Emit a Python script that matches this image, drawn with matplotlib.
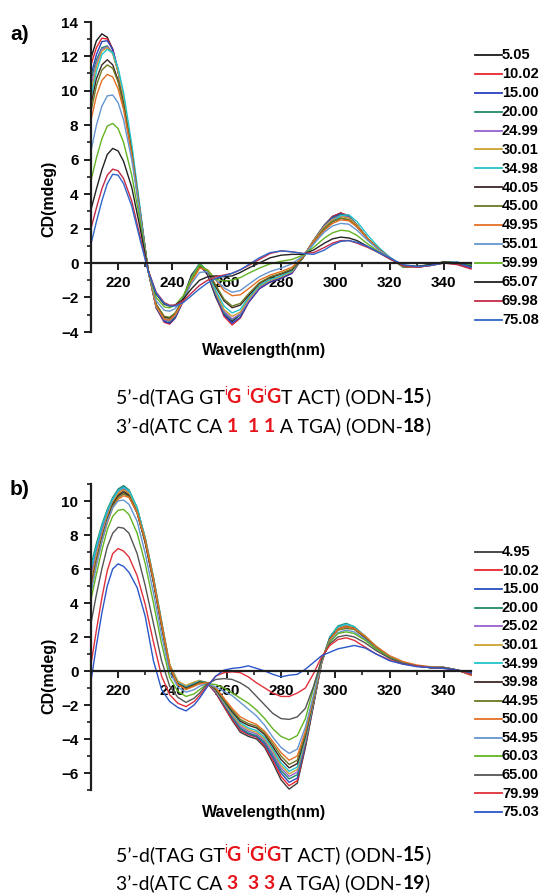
import matplotlib
matplotlib.use("Agg")
import matplotlib.pyplot as plt
from matplotlib.lines import Line2D
from matplotlib.ticker import MultipleLocator

plt.rcParams['font.family'] = ['Liberation Sans', 'DejaVu Sans']

W, H = 542, 895

# ===================== panel a data
wl_a = [210, 212, 214, 216, 218, 220, 222, 225, 228, 231, 234, 237, 239, 241, 244, 247, 250, 253, 256, 259, 262,
        265, 268, 272, 276, 280, 284, 288, 292, 296, 299, 302, 305, 308, 312, 316, 320, 325, 330, 335, 340, 345, 350]
temps_a = ["5.05", "10.02", "15.00", "20.00", "24.99", "30.01", "34.98", "40.05",
           "45.00", "49.95", "55.01", "59.99", "65.07", "69.98", "75.08"]

a_0505 = [11.9, 12.9, 13.3, 13.1, 12.4, 11.1, 9.5, 6.5, 3.0, -0.4, -2.5, -3.4, -3.5, -3.1, -2.0, -0.7, -0.1, -0.7, -2.0, -3.0, -3.4,
          -3.0, -2.1, -1.4, -1.1, -0.9, -0.5, 0.3, 1.3, 2.2, 2.7, 2.9, 2.7, 2.2, 1.4, 0.8, 0.3, -0.2, -0.25, -0.1, 0.05, 0.0, -0.15]
a_1002 = [11.5, 12.5, 13.05, 13.0, 12.4, 11.1, 9.5, 6.5, 3.0, -0.4, -2.6, -3.45, -3.55, -3.2, -2.2, -0.9, -0.15, -0.6, -1.9, -3.1, -3.6,
          -3.2, -2.3, -1.5, -1.1, -0.9, -0.6, 0.3, 1.3, 2.2, 2.7, 2.9, 2.75, 2.2, 1.4, 0.8, 0.3, -0.2, -0.25, -0.15, 0.0, -0.05, -0.3]
a_1500 = [10.9, 12.1, 12.85, 12.9, 12.4, 11.2, 9.6, 6.6, 3.1, -0.4, -2.6, -3.4, -3.5, -3.2, -2.2, -0.9, -0.15, -0.6, -1.9, -3.0, -3.5,
          -3.15, -2.3, -1.5, -1.1, -0.9, -0.6, 0.3, 1.3, 2.2, 2.65, 2.85, 2.7, 2.2, 1.4, 0.8, 0.3, -0.2, -0.25, -0.1, 0.0, -0.05, -0.25]
a_2000 = [10.6, 11.8, 12.5, 12.6, 12.2, 11.1, 9.6, 6.6, 3.1, -0.4, -2.5, -3.3, -3.4, -3.1, -2.1, -0.8, 0.0, -0.5, -1.8, -2.9, -3.3,
          -3.0, -2.2, -1.4, -1.0, -0.8, -0.5, 0.3, 1.3, 2.2, 2.6, 2.8, 2.7, 2.2, 1.4, 0.8, 0.3, -0.25, -0.25, -0.1, 0.05, 0.0, -0.2]
a_2499 = [10.3, 11.6, 12.4, 12.55, 12.2, 11.1, 9.6, 6.6, 3.1, -0.4, -2.5, -3.3, -3.35, -3.05, -2.1, -0.85, -0.1, -0.5, -1.75, -2.8, -3.25,
          -2.95, -2.2, -1.4, -1.0, -0.8, -0.5, 0.3, 1.3, 2.15, 2.55, 2.75, 2.65, 2.2, 1.4, 0.8, 0.3, -0.2, -0.25, -0.1, 0.05, 0.0, -0.2]
a_3001 = [9.9, 11.4, 12.3, 12.5, 12.15, 11.1, 9.6, 6.6, 3.1, -0.4, -2.5, -3.25, -3.3, -3.0, -2.1, -0.9, -0.15, -0.5, -1.7, -2.7, -3.1,
          -2.85, -2.1, -1.35, -1.0, -0.8, -0.5, 0.3, 1.3, 2.1, 2.5, 2.7, 2.6, 2.2, 1.4, 0.8, 0.3, -0.2, -0.25, -0.1, 0.05, 0.0, -0.2]
a_3498 = [9.6, 11.1, 12.1, 12.4, 12.2, 11.3, 9.9, 6.9, 3.3, -0.4, -2.5, -3.2, -3.25, -3.0, -2.1, -0.9, -0.1, -0.45, -1.6, -2.5, -2.9,
          -2.7, -2.0, -1.3, -0.95, -0.75, -0.45, 0.3, 1.1, 1.9, 2.4, 2.75, 2.8, 2.4, 1.6, 0.9, 0.35, -0.2, -0.25, -0.1, 0.05, 0.05, -0.15]
a_4005 = [9.2, 10.7, 11.5, 11.8, 11.5, 10.6, 9.2, 6.4, 3.0, -0.4, -2.4, -3.15, -3.2, -2.95, -2.1, -1.0, -0.2, -0.45, -1.4, -2.2, -2.6,
          -2.45, -1.9, -1.2, -0.85, -0.65, -0.4, 0.3, 1.2, 2.0, 2.4, 2.6, 2.5, 2.1, 1.4, 0.8, 0.3, -0.2, -0.25, -0.1, 0.05, 0.0, -0.2]
a_4500 = [8.8, 10.3, 11.2, 11.5, 11.3, 10.5, 9.1, 6.4, 3.0, -0.4, -2.4, -3.1, -3.15, -2.9, -2.1, -1.0, -0.25, -0.45, -1.3, -2.1, -2.5,
          -2.35, -1.8, -1.15, -0.8, -0.6, -0.35, 0.3, 1.2, 2.0, 2.4, 2.6, 2.5, 2.1, 1.4, 0.8, 0.3, -0.2, -0.25, -0.1, 0.05, 0.0, -0.2]
a_4995 = [8.3, 9.7, 10.6, 10.95, 10.8, 10.1, 8.9, 6.3, 3.0, -0.4, -2.5, -3.25, -3.3, -3.0, -2.2, -1.1, -0.3, -0.4, -1.0, -1.6, -1.9,
          -1.85, -1.5, -1.0, -0.7, -0.5, -0.25, 0.35, 1.2, 1.9, 2.3, 2.5, 2.45, 2.1, 1.4, 0.8, 0.3, -0.2, -0.25, -0.1, 0.05, 0.0, -0.2]
a_5501 = [6.5, 8.0, 9.1, 9.7, 9.75, 9.3, 8.3, 6.0, 2.9, -0.4, -2.2, -2.75, -2.8, -2.65, -2.1, -1.2, -0.55, -0.5, -0.95, -1.45, -1.7,
          -1.6, -1.25, -0.8, -0.5, -0.3, -0.05, 0.4, 1.1, 1.8, 2.15, 2.3, 2.25, 1.9, 1.3, 0.75, 0.3, -0.15, -0.25, -0.1, 0.05, 0.0, -0.2]
a_5999 = [4.8, 6.1, 7.2, 7.95, 8.1, 7.8, 7.0, 5.1, 2.5, -0.4, -2.0, -2.55, -2.6, -2.45, -1.9, -0.9, -0.1, -0.45, -0.95, -1.05, -1.0,
          -0.85, -0.6, -0.3, -0.05, 0.1, 0.2, 0.45, 0.9, 1.45, 1.75, 1.9, 1.85, 1.6, 1.1, 0.65, 0.25, -0.15, -0.2, -0.1, 0.05, 0.0, -0.15]
a_6507 = [3.1, 4.3, 5.4, 6.3, 6.65, 6.5, 5.9, 4.4, 2.1, -0.4, -1.8, -2.4, -2.5, -2.45, -2.1, -1.5, -1.0, -0.8, -0.75, -0.8, -0.75,
          -0.55, -0.3, 0.0, 0.3, 0.45, 0.5, 0.5, 0.75, 1.15, 1.4, 1.5, 1.45, 1.3, 0.95, 0.6, 0.25, -0.15, -0.2, -0.1, 0.05, 0.0, -0.2]
a_6998 = [2.0, 3.2, 4.3, 5.1, 5.45, 5.35, 4.9, 3.6, 1.6, -0.4, -1.7, -2.3, -2.45, -2.45, -2.2, -1.75, -1.3, -1.0, -0.8, -0.7, -0.6,
          -0.4, -0.15, 0.2, 0.55, 0.7, 0.65, 0.55, 0.6, 0.9, 1.15, 1.3, 1.3, 1.15, 0.9, 0.6, 0.25, -0.15, -0.25, -0.15, 0.0, -0.1, -0.35]
a_7508 = [1.1, 2.4, 3.6, 4.6, 5.15, 5.1, 4.6, 3.3, 1.4, -0.45, -1.75, -2.35, -2.5, -2.5, -2.3, -1.9, -1.5, -1.15, -0.9, -0.75, -0.6,
          -0.4, -0.1, 0.3, 0.6, 0.7, 0.65, 0.55, 0.5, 0.75, 1.05, 1.25, 1.3, 1.2, 0.95, 0.6, 0.3, -0.1, -0.2, -0.15, 0.0, 0.05, -0.25]
curves_a = [a_0505, a_1002, a_1500, a_2000, a_2499, a_3001, a_3498, a_4005,
            a_4500, a_4995, a_5501, a_5999, a_6507, a_6998, a_7508]

# ===================== panel b data
wl_b = [210, 212, 214, 216, 218, 220, 222, 224, 227, 230, 233, 236, 239, 242, 245, 248, 250, 253, 256, 259, 262, 265, 268,
        271, 274, 277, 280, 283, 286, 289, 292, 295, 298, 301, 304, 307, 311, 315, 320, 325, 330, 335, 340, 345, 350]
temps_b = ["4.95", "10.02", "15.00", "20.00", "25.02", "30.01", "34.99", "39.98",
           "44.95", "50.00", "54.95", "60.03", "65.00", "79.99", "75.03"]

b_0495 = [5.6, 6.9, 8.0, 9.0, 9.8, 10.35, 10.6, 10.35, 9.3, 7.5, 5.2, 2.6, 0.2, -0.8, -1.05, -0.85, -0.75, -0.75, -1.3, -2.1, -2.9, -3.6, -3.85,
          -4.0, -4.5, -5.4, -6.4, -6.95, -6.6, -4.5, -2.0, 0.5, 1.9, 2.5, 2.65, 2.5, 1.95, 1.35, 0.8, 0.45, 0.3, 0.2, 0.2, 0.05, -0.2]
b_1002 = [5.5, 6.9, 8.1, 9.1, 9.9, 10.45, 10.7, 10.45, 9.4, 7.6, 5.3, 2.7, 0.2, -0.75, -0.95, -0.8, -0.7, -0.75, -1.3, -2.1, -2.85, -3.5, -3.75,
          -3.9, -4.4, -5.25, -6.2, -6.75, -6.45, -4.4, -1.95, 0.5, 1.9, 2.5, 2.6, 2.45, 1.95, 1.35, 0.8, 0.45, 0.3, 0.2, 0.2, 0.05, -0.25]
b_1500 = [5.7, 7.1, 8.3, 9.3, 10.1, 10.6, 10.85, 10.6, 9.5, 7.7, 5.4, 2.8, 0.3, -0.7, -0.95, -0.75, -0.65, -0.7, -1.25, -2.0, -2.75, -3.4, -3.7,
          -3.85, -4.3, -5.1, -6.0, -6.55, -6.3, -4.3, -1.9, 0.55, 1.95, 2.55, 2.7, 2.5, 1.95, 1.35, 0.8, 0.45, 0.3, 0.2, 0.2, 0.05, -0.2]
b_2000 = [6.2, 7.5, 8.6, 9.5, 10.2, 10.7, 10.9, 10.65, 9.6, 7.8, 5.5, 2.9, 0.3, -0.7, -0.9, -0.7, -0.6, -0.7, -1.2, -1.95, -2.7, -3.35, -3.65,
          -3.8, -4.2, -4.95, -5.85, -6.35, -6.1, -4.2, -1.85, 0.55, 2.0, 2.65, 2.8, 2.6, 2.0, 1.4, 0.8, 0.45, 0.3, 0.2, 0.2, 0.05, -0.2]
b_2502 = [5.5, 7.0, 8.2, 9.3, 10.1, 10.6, 10.75, 10.5, 9.5, 7.7, 5.4, 2.8, 0.3, -0.7, -0.9, -0.7, -0.6, -0.7, -1.2, -1.9, -2.6, -3.25, -3.55,
          -3.7, -4.1, -4.85, -5.7, -6.2, -5.95, -4.1, -1.8, 0.55, 1.95, 2.55, 2.7, 2.55, 2.0, 1.4, 0.8, 0.45, 0.3, 0.2, 0.2, 0.05, -0.2]
b_3001 = [5.3, 6.8, 8.0, 9.1, 9.9, 10.45, 10.65, 10.45, 9.5, 7.8, 5.5, 2.9, 0.4, -0.6, -0.85, -0.65, -0.55, -0.7, -1.15, -1.85, -2.55, -3.15, -3.45,
          -3.6, -4.0, -4.7, -5.55, -6.05, -5.8, -4.0, -1.75, 0.55, 1.95, 2.5, 2.65, 2.55, 2.05, 1.45, 0.85, 0.5, 0.3, 0.2, 0.2, 0.05, -0.2]
b_3499 = [6.0, 7.3, 8.5, 9.4, 10.1, 10.6, 10.8, 10.6, 9.6, 7.8, 5.5, 2.9, 0.3, -0.7, -0.95, -0.75, -0.6, -0.7, -1.1, -1.8, -2.45, -3.05, -3.35,
          -3.5, -3.9, -4.6, -5.4, -5.9, -5.65, -3.9, -1.7, 0.55, 2.0, 2.6, 2.75, 2.6, 2.05, 1.45, 0.85, 0.5, 0.3, 0.2, 0.2, 0.05, -0.2]
b_3998 = [5.0, 6.5, 7.8, 8.9, 9.8, 10.3, 10.5, 10.3, 9.3, 7.6, 5.3, 2.7, 0.2, -0.75, -1.0, -0.8, -0.65, -0.7, -1.1, -1.75, -2.4, -2.95, -3.2,
          -3.35, -3.75, -4.45, -5.2, -5.7, -5.45, -3.8, -1.65, 0.55, 1.9, 2.45, 2.6, 2.5, 2.0, 1.4, 0.85, 0.5, 0.3, 0.2, 0.2, 0.05, -0.2]
b_4495 = [4.9, 6.4, 7.7, 8.8, 9.7, 10.2, 10.4, 10.25, 9.3, 7.6, 5.3, 2.7, 0.2, -0.8, -1.05, -0.85, -0.7, -0.7, -1.05, -1.7, -2.3, -2.85, -3.1,
          -3.25, -3.65, -4.3, -5.0, -5.5, -5.25, -3.7, -1.6, 0.55, 1.85, 2.4, 2.5, 2.45, 2.0, 1.4, 0.85, 0.5, 0.3, 0.2, 0.2, 0.05, -0.2]
b_5000 = [4.8, 6.3, 7.6, 8.7, 9.6, 10.1, 10.3, 10.2, 9.3, 7.7, 5.4, 2.8, 0.3, -0.8, -1.1, -0.9, -0.75, -0.7, -1.0, -1.6, -2.2, -2.7, -2.95,
          -3.15, -3.55, -4.15, -4.8, -5.25, -5.0, -3.55, -1.55, 0.55, 1.85, 2.45, 2.6, 2.5, 2.05, 1.45, 0.9, 0.55, 0.35, 0.25, 0.2, 0.05, -0.25]
b_5495 = [4.6, 6.2, 7.6, 8.8, 9.6, 10.0, 10.05, 9.8, 8.8, 6.9, 4.6, 2.1, -0.1, -0.95, -1.25, -1.1, -0.9, -0.75, -0.95, -1.2, -1.45, -1.85, -2.25,
          -2.65, -3.2, -3.9, -4.5, -4.85, -4.6, -3.3, -1.4, 0.6, 1.75, 2.25, 2.4, 2.3, 1.85, 1.3, 0.8, 0.45, 0.3, 0.2, 0.2, 0.05, -0.2]
b_6003 = [4.2, 5.7, 7.1, 8.3, 9.1, 9.45, 9.5, 9.2, 8.1, 6.3, 4.0, 1.6, -0.4, -1.2, -1.5, -1.35, -1.1, -0.75, -0.8, -1.0, -1.3, -1.6, -1.9,
          -2.3, -2.8, -3.4, -3.85, -4.05, -3.8, -2.8, -1.0, 0.7, 1.7, 2.2, 2.3, 2.2, 1.8, 1.3, 0.8, 0.45, 0.3, 0.2, 0.2, 0.05, -0.2]
b_6500 = [2.8, 4.5, 6.0, 7.3, 8.1, 8.45, 8.4, 8.1, 6.9, 5.0, 2.8, 0.6, -0.9, -1.55, -1.85, -1.6, -1.3, -0.75, -0.5, -0.45, -0.5, -0.7, -1.0,
          -1.5, -2.0, -2.5, -2.8, -2.85, -2.7, -2.2, -0.9, 0.7, 1.6, 2.0, 2.1, 2.0, 1.65, 1.2, 0.75, 0.45, 0.3, 0.2, 0.2, 0.05, -0.2]
b_7999 = [0.4, 2.4, 4.3, 5.9, 6.9, 7.2, 7.05, 6.7, 5.6, 3.9, 1.7, -0.3, -1.4, -1.9, -2.1, -1.8, -1.45, -0.85, -0.3, -0.1, -0.05, -0.1, -0.35,
          -0.7, -1.0, -1.3, -1.5, -1.5, -1.3, -1.0, -0.15, 0.85, 1.5, 1.85, 1.95, 1.8, 1.4, 1.0, 0.65, 0.4, 0.3, 0.2, 0.15, 0.05, -0.2]
b_7503 = [-0.6, 1.5, 3.4, 5.0, 6.0, 6.3, 6.15, 5.8, 4.9, 3.2, 0.6, -1.1, -1.8, -2.15, -2.35, -2.0, -1.6, -0.9, -0.3, 0.05, 0.15, 0.2, 0.3,
          0.15, 0.0, -0.2, -0.35, -0.25, -0.2, 0.1, 0.5, 0.9, 1.1, 1.3, 1.4, 1.5, 1.35, 1.0, 0.6, 0.4, 0.25, 0.2, 0.15, 0.05, -0.1]
curves_b = [b_0495, b_1002, b_1500, b_2000, b_2502, b_3001, b_3499, b_3998,
            b_4495, b_5000, b_5495, b_6003, b_6500, b_7999, b_7503]

# Origin-like line colours (same order for both panels)
colors_a = ['#1a1a1a', '#e8242c', '#2a3fbf', '#20896b', '#9560d0', '#c9a232', '#22c3cc', '#3d2626',
            '#6b7a24', '#e46f24', '#6495cf', '#64b323', '#222222', '#c42a48', '#2f66c9']
colors_b = ['#3a3a3a', '#e8242c', '#2a4fbf', '#20896b', '#9560d0', '#c9a232', '#22c3cc', '#3d2626',
            '#6b7a24', '#e46f24', '#6495cf', '#64b323', '#555555', '#e0303a', '#2a56c9']


def fx(px):
    return px / W


def fy(py):
    return 1 - py / H


fig = plt.figure(figsize=(W / 100, H / 100 + 0.002), dpi=100)


def setup(ax, ylim):
    ax.set_xlim(210, 350)
    ax.set_ylim(*ylim)
    for s in ['top', 'right']:
        ax.spines[s].set_visible(False)
    ax.spines['bottom'].set_position(('data', 0))
    for s in ['left', 'bottom']:
        ax.spines[s].set_linewidth(1.6)
        ax.spines[s].set_color('#1e1e1e')
    ax.xaxis.set_major_locator(MultipleLocator(20))
    ax.xaxis.set_minor_locator(MultipleLocator(10))
    ax.yaxis.set_major_locator(MultipleLocator(2))
    ax.yaxis.set_minor_locator(MultipleLocator(1))
    ax.set_xticks(range(220, 341, 20))
    ax.tick_params(which='major', direction='out', length=5, width=1.4, labelsize=11, pad=4, color='#1e1e1e')
    ax.tick_params(which='minor', direction='out', length=3, width=1.2, color='#1e1e1e')
    for lab in ax.get_xticklabels() + ax.get_yticklabels():
        lab.set_fontweight('bold')
    ax.patch.set_alpha(0)


def legend(labels, colors, y0, step):
    for i, (lab, c) in enumerate(zip(labels, colors)):
        y = y0 + i * step
        fig.add_artist(Line2D([fx(475), fx(502)], [fy(y), fy(y)], color=c, lw=1.3))
        fig.text(fx(502), fy(y), lab, fontsize=10.5, fontweight='bold', va='center', ha='left')


def make_texts(segs, yb, size):
    arts = []
    for s, col, bold, sup in segs:
        fs = size * 0.62 if sup else size
        raise_px = size * 100 / 72 * 0.42 if sup else 0
        t = fig.text(0, fy(yb - raise_px), s, color=col, fontsize=fs,
                     fontweight='bold' if bold else 'normal', family=['Lato', 'DejaVu Sans'],
                     va='baseline', ha='left')
        arts.append(t)
    return arts


def rich_line(segs, xc, yb, target_w):
    # one line of mixed-style text, centred on xc and sized to target width
    r = fig.canvas.get_renderer()
    probe = make_texts(segs, yb, 14.0)
    tot = sum(a.get_window_extent(r).width for a in probe)
    for a in probe:
        a.remove()
    arts = make_texts(segs, yb, 14.0 * target_w / tot)
    ws = [a.get_window_extent(r).width for a in arts]
    x = xc - sum(ws) / 2
    for a, w in zip(arts, ws):
        a.set_x(fx(x))
        x += w


K, R = 'black', '#e8141c'


def seq_lines(num, dup_id, y1, y2):
    line1 = [("5\u2019-d(TAG GT", K, False, False), ("i", R, False, True), ("G ", R, True, False),
             ("i", R, False, True), ("G", R, True, False), ("i", R, False, True), ("G", R, True, False),
             ("T ACT) (ODN-", K, False, False), ("15", K, True, False), (")", K, False, False)]
    line2 = [("3\u2019-d(ATC CA ", K, False, False), (num + "  ", R, True, False), (num + " ", R, True, False),
             (num, R, True, False), (" A TGA) (ODN-", K, False, False), (dup_id, K, True, False), (")", K, False, False)]
    rich_line(line1, 273, y1, 316)
    rich_line(line2, 273, y2, 316)


# ===================== panel a
ax1 = fig.add_axes([fx(91), fy(332), fx(471) - fx(91), fy(22) - fy(332)])
setup(ax1, (-4, 14))
for ys, c in zip(curves_a, colors_a):
    ax1.plot(wl_a, ys, color=c, lw=1.0, clip_on=False)
legend(temps_a, colors_a, 55, 18.93)
fig.text(fx(10), fy(34), "a)", fontsize=15, fontweight='bold', va='center', ha='left')
fig.text(fx(49), fy(199), "CD(mdeg)", rotation=90, fontsize=11.5, fontweight='bold', va='center', ha='center')
fig.text(fx(264), fy(350), "Wavelength(nm)", fontsize=11.5, fontweight='bold', va='center', ha='center')
seq_lines("1", "18", 403, 432)

# ===================== panel b
ax2 = fig.add_axes([fx(91), fy(790), fx(471) - fx(91), fy(484) - fy(790)])
setup(ax2, (-7, 11))
for ys, c in zip(curves_b, colors_b):
    ax2.plot(wl_b, ys, color=c, lw=1.0, clip_on=False)
legend(temps_b, colors_b, 552, 18.57)
fig.text(fx(10), fy(489), "b)", fontsize=15, fontweight='bold', va='center', ha='left')
fig.text(fx(49), fy(676), "CD(mdeg)", rotation=90, fontsize=11.5, fontweight='bold', va='center', ha='center')
fig.text(fx(264), fy(812), "Wavelength(nm)", fontsize=11.5, fontweight='bold', va='center', ha='center')
seq_lines("3", "19", 861, 889)

fig.savefig("out.png", dpi=100)
